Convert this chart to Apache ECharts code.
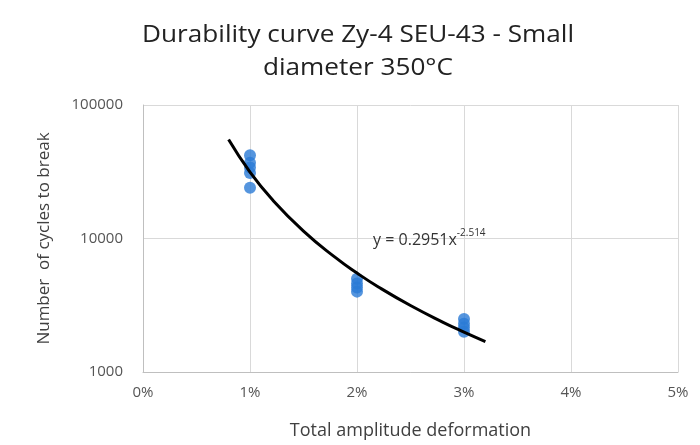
<!DOCTYPE html>
<html><head><meta charset="utf-8">
<script src="https://cdn.jsdelivr.net/npm/echarts@6/dist/echarts.min.js"></script>
<style>html,body{margin:0;padding:0;background:#fff}#c{width:700px;height:445px}</style>
</head><body><div id="c"></div>
<script>
var titleLines = ['Durability curve Zy-4 SEU-43 - Small', 'diameter 350°C'];
var xAxisName = 'Total amplitude deformation';
var yAxisName = 'Number  of cycles to break';
var xTicks = [0, 0.01, 0.02, 0.03, 0.04, 0.05];
var yTicks = [1000, 10000, 100000];
var pointStrain = [0.01, 0.01, 0.01, 0.01, 0.01, 0.02, 0.02, 0.02, 0.02, 0.03, 0.03, 0.03, 0.03];
var pointCycles = [42000, 37000, 34000, 31000, 24000, 5000, 4600, 4300, 4000, 2500, 2300, 2150, 2000];
var trendStrain = [0.008, 0.01, 0.012, 0.015, 0.018, 0.02, 0.022, 0.025, 0.028, 0.03, 0.032];
var trendCycles = [55200, 31460, 19900, 11360, 7184, 5510, 4335, 3146, 2366, 1990, 1691];
var equationText = 'y = 0.2951x';
var equationExp = '-2.514';

var chart = echarts.init(document.getElementById('c'));
var font = '"Open Sans", sans-serif';
chart.setOption({
  animation: false,
  backgroundColor: '#fff',
  grid: {left: 143, right: 22, top: 105, bottom: 73},
  xAxis: {
    type: 'value', min: xTicks[0], max: xTicks[xTicks.length - 1], interval: 0.01,
    name: xAxisName, nameLocation: 'middle', nameGap: 50,
    nameTextStyle: {fontFamily: font, fontSize: 18, color: '#404040'},
    axisLine: {show: true, lineStyle: {color: '#bfbfbf'}},
    axisTick: {show: false},
    axisLabel: {fontFamily: font, fontSize: 15, color: '#555', margin: 13,
      formatter: function (v) { return Math.round(v * 100) + '%'; }},
    splitLine: {show: true, lineStyle: {color: '#d9d9d9'}}
  },
  yAxis: {
    type: 'log', logBase: 10, min: yTicks[0], max: yTicks[yTicks.length - 1],
    name: yAxisName, nameLocation: 'middle', nameGap: 90, nameRotate: 90,
    nameTextStyle: {fontFamily: font, fontSize: 17, color: '#404040'},
    axisLine: {show: true, lineStyle: {color: '#bfbfbf'}},
    axisTick: {show: false},
    axisLabel: {fontFamily: font, fontSize: 15, color: '#555', margin: 20,
      formatter: function (v) { return String(Math.round(v)); }},
    splitLine: {show: true, lineStyle: {color: '#d9d9d9'}}
  },
  series: [
    {
      type: 'scatter', symbol: 'circle', symbolSize: 12,
      itemStyle: {color: '#2a7bd6'},
      data: pointStrain.map(function (x, i) { return [x, pointCycles[i]]; }),
      z: 2
    },
    {
      type: 'line', smooth: true, showSymbol: false,
      lineStyle: {color: '#000', width: 3},
      data: trendStrain.map(function (x, i) { return [x, trendCycles[i]]; }),
      z: 3
    }
  ]
});
var p = chart.convertToPixel({gridIndex: 0}, [0.0215, 10000]);
chart.setOption({
  graphic: [
    {
      type: 'text', x: 358, y: 35, scaleX: 1.09, scaleY: 1,
      style: {text: titleLines[0], fontFamily: font, fontSize: 24, fill: '#222',
        align: 'center', verticalAlign: 'middle'}
    },
    {
      type: 'text', x: 358, y: 68, scaleX: 1.09, scaleY: 1,
      style: {text: titleLines[1], fontFamily: font, fontSize: 24, fill: '#222',
        align: 'center', verticalAlign: 'middle'}
    },
    {
      type: 'text', x: p[0], y: p[1] + 10,
      style: {
        text: '{a|' + equationText + '}{b|' + equationExp + '}',
        verticalAlign: 'bottom',
        rich: {
          a: {fontFamily: font, fontSize: 16, fill: '#333', verticalAlign: 'bottom'},
          b: {fontFamily: font, fontSize: 10, fill: '#333', verticalAlign: 'top', padding: [0, 0, 10, 0]}
        }
      }
    }
  ]
});
</script></body></html>
